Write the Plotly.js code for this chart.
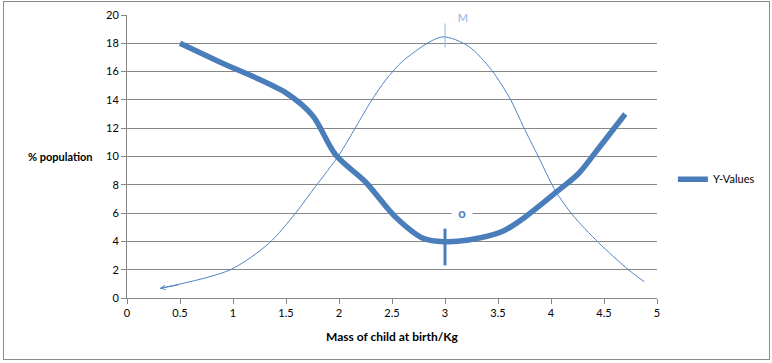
<!DOCTYPE html>
<html>
<head>
<meta charset="utf-8">
<script src="https://cdn.plot.ly/plotly-3.0.1.min.js"></script>
<style>
html,body{margin:0;padding:0;background:#fff;}
#chart{width:772px;height:363px;}
#frame{position:absolute;left:3px;top:1px;width:767px;height:359px;border:1px solid #8c8c8c;box-sizing:border-box;pointer-events:none;}
</style>
</head>
<body>
<div id="chart"></div>
<div id="frame"></div>
<script>
// Thick series "Y-Values"
const yValuesX = [0.5, 0.87, 1.5, 1.75, 1.97, 2.25, 2.53, 2.8, 3.0, 3.22, 3.54, 3.76, 4.07, 4.26, 4.41, 4.7];
const yValuesY = [18.0, 16.7, 14.5, 12.9, 10.1, 8.2, 5.75, 4.2, 3.98, 4.1, 4.7, 5.75, 7.6, 8.8, 10.2, 13.0];
// Thin curve (no legend entry)
const thinX = [0.31, 0.97, 1.34, 1.59, 1.78, 2.0, 2.16, 2.31, 2.44, 2.61, 2.97, 3.22, 3.44, 3.62, 3.74, 3.88, 4.04, 4.2, 4.45, 4.73, 4.88];
const thinY = [0.68, 1.98, 3.87, 6.0, 7.9, 10.1, 12.1, 14.0, 15.4, 16.8, 18.45, 17.8, 16.1, 14.0, 12.1, 10.0, 7.6, 5.9, 3.9, 2.0, 1.15];
const xTicks = [0, 0.5, 1, 1.5, 2, 2.5, 3, 3.5, 4, 4.5, 5];
const xTickLabels = ["0", "0.5", "1", "1.5", "2", "2.5", "3", "3.5", "4", "4.5", "5"];
const yTicks = [0, 2, 4, 6, 8, 10, 12, 14, 16, 18, 20];

const blue = '#4a7ebb';
const font = 'Lato, "Open Sans", "Liberation Sans", sans-serif';

const traces = [
  {x: thinX, y: thinY, mode: 'lines', line: {color: '#4f85c6', width: 1, shape: 'spline', smoothing: 0.8}, showlegend: false, hoverinfo: 'none'},
  {x: yValuesX, y: yValuesY, mode: 'lines', name: 'Y-Values', line: {color: blue, width: 5.5, shape: 'spline', smoothing: 0.9}}
];

const layout = {
  width: 772, height: 363,
  margin: {l: 127, r: 113, t: 15, b: 65},
  paper_bgcolor: '#fff', plot_bgcolor: '#fff',
  font: {family: font, size: 11, color: '#000'},
  showlegend: true,
  legend: {x: 1.03, xanchor: 'left', y: 0.42, yanchor: 'middle', font: {size: 11, family: font}, bgcolor: 'rgba(0,0,0,0)', itemwidth: 30},
  xaxis: {range: [0, 5], tickvals: xTicks, ticktext: xTickLabels, showgrid: false, zeroline: false,
    showline: true, linecolor: '#868686', linewidth: 1, ticks: 'outside', ticklen: 5, tickcolor: '#868686',
    tickfont: {size: 11}, title: {text: '<b>Mass of child at birth/Kg</b>', font: {size: 12}, standoff: 14}},
  yaxis: {range: [0, 20], tickvals: yTicks, showgrid: true, gridcolor: '#868686', gridwidth: 1, zeroline: false,
    showline: true, linecolor: '#868686', linewidth: 1, ticks: 'outside', ticklen: 5, tickcolor: '#868686',
    tickfont: {size: 11}},
  shapes: [
    {type: 'line', xref: 'x', yref: 'y', x0: 3, x1: 3, y0: 17.7, y1: 19.4, line: {color: '#8db3e2', width: 1}},
    {type: 'line', xref: 'x', yref: 'y', x0: 3, x1: 3, y0: 2.3, y1: 4.9, line: {color: blue, width: 3}}
  ],
  annotations: [
    {xref: 'paper', yref: 'y', x: -0.126, y: 10, text: '<b>% population</b>', showarrow: false, xanchor: 'center', font: {size: 11}},
    {xref: 'x', yref: 'y', x: 3.17, y: 19.85, text: '&nbsp;M&nbsp;', showarrow: false, bgcolor: '#fff', font: {size: 11, color: '#8db3e2'}, borderpad: 4},
    {xref: 'x', yref: 'y', x: 3.16, y: 6.0, text: '<b>&nbsp;o&nbsp;</b>', showarrow: false, bgcolor: '#fff', font: {size: 13, color: blue}, borderpad: 3},
    {xref: 'x', yref: 'y', axref: 'x', ayref: 'y', x: 0.31, y: 0.68, ax: 0.5, ay: 0.95, text: '', showarrow: true,
      arrowhead: 5, arrowsize: 0.9, arrowwidth: 1, arrowcolor: '#4f85c6', standoff: 0}
  ]
};

Plotly.newPlot('chart', traces, layout, {displayModeBar: false, staticPlot: true});
</script>
</body>
</html>
